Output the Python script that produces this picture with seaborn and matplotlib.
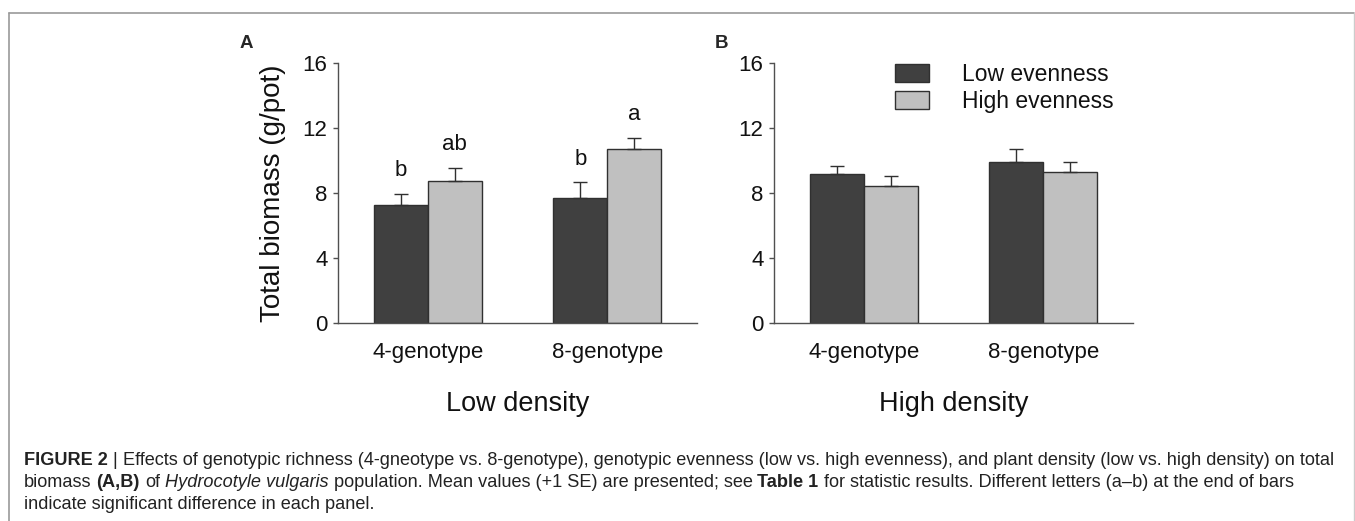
import matplotlib
matplotlib.use("Agg")
import matplotlib.pyplot as plt
from matplotlib.lines import Line2D
import seaborn as sns
import pandas as pd
import numpy as np

# ---------------- data ----------------
genotypes = ["4-genotype", "8-genotype"]
evenness_levels = ["Low evenness", "High evenness"]

low_density_low_even = [7.24, 7.69]
low_density_high_even = [8.72, 10.71]
low_density_low_even_se = [0.70, 0.97]
low_density_high_even_se = [0.84, 0.70]
low_density_low_even_letters = ["b", "b"]
low_density_high_even_letters = ["ab", "a"]

high_density_low_even = [9.17, 9.89]
high_density_high_even = [8.45, 9.29]
high_density_low_even_se = [0.51, 0.82]
high_density_high_even_se = [0.62, 0.64]

y_ticks = [0, 4, 8, 12, 16]
panel_titles = ["A", "B"]
density_labels = ["Low density", "High density"]
y_label = "Total biomass (g/pot)"

caption_lines = [
    [("FIGURE 2", "bold", "normal"), ("|", "normal", "normal"),
     ("Effects of genotypic richness (4-gneotype vs. 8-genotype), genotypic evenness (low vs. high evenness), and plant density (low vs. high density) on total", "normal", "normal")],
    [("biomass", "normal", "normal"), ("(A,B)", "bold", "normal"), ("of", "normal", "normal"),
     ("Hydrocotyle vulgaris", "normal", "italic"),
     ("population. Mean values (+1 SE) are presented; see", "normal", "normal"),
     ("Table 1", "bold", "normal"),
     ("for statistic results. Different letters (a\u2013b) at the end of bars", "normal", "normal")],
    [("indicate significant difference in each panel.", "normal", "normal")],
]

# ---------------- style ----------------
sns.set_style("white")
plt.rcParams["font.family"] = ["Liberation Sans", "DejaVu Sans"]

W, H = 1355, 521
fig = plt.figure(figsize=(W / 100, H / 100), dpi=100)

DARK = "#404040"
LIGHT = "#c0c0c0"
EDGE = "#303030"
AXC = "#505050"

def px_axes(left, top, right, bottom):
    return fig.add_axes([left / W, 1 - bottom / H, (right - left) / W, (bottom - top) / H])

axA = px_axes(338, 63, 697, 323)
axB = px_axes(774, 63, 1133, 323)

panels = [
    (axA, low_density_low_even, low_density_high_even, low_density_low_even_se,
     low_density_high_even_se, [low_density_low_even_letters, low_density_high_even_letters]),
    (axB, high_density_low_even, high_density_high_even, high_density_low_even_se,
     high_density_high_even_se, None),
]

for i, (ax, lo, hi, lo_se, hi_se, letters) in enumerate(panels):
    df = pd.DataFrame({
        "genotype": genotypes * 2,
        "evenness": [evenness_levels[0]] * 2 + [evenness_levels[1]] * 2,
        "biomass": lo + hi,
    })
    sns.barplot(data=df, x="genotype", y="biomass", hue="evenness",
                order=genotypes, hue_order=evenness_levels,
                palette=[DARK, LIGHT], saturation=1, width=0.6,
                edgecolor=EDGE, linewidth=1.0, errorbar=None,
                legend=(i == 1), ax=ax)
    ses = [lo_se, hi_se]
    bar_conts = list(ax.containers)
    for k, cont in enumerate(bar_conts):
        bars = list(cont.patches)
        xs = [b.get_x() + b.get_width() / 2 for b in bars]
        hs = [b.get_height() for b in bars]
        ax.errorbar(xs, hs, yerr=[np.zeros(len(hs)), ses[k]], fmt="none",
                    ecolor=EDGE, elinewidth=1.0, capsize=4.8, capthick=1.0, zorder=1)
        if letters is not None:
            for x, h, s, lab in zip(xs, hs, ses[k], letters[k]):
                ax.annotate(lab, (x, h + s), xytext=(0, 9), textcoords="offset points",
                            ha="center", va="bottom", fontsize=16, color="#111111")
    ax.set_xlim(-0.5, 1.5)
    ax.set_ylim(0, 16)
    ax.set_yticks(y_ticks)
    ax.set_yticklabels([str(t) for t in y_ticks], fontsize=16, color="#111111")
    ax.set_xticks(range(len(genotypes)))
    ax.set_xticklabels(genotypes, fontsize=16, color="#111111")
    ax.tick_params(axis="x", length=0, pad=14)
    ax.tick_params(axis="y", length=3.5, width=1, color=AXC, pad=4, direction="out", left=True)
    for sp in ["top", "right"]:
        ax.spines[sp].set_visible(False)
    for sp in ["left", "bottom"]:
        ax.spines[sp].set_color(AXC)
        ax.spines[sp].set_linewidth(1.0)
    ax.set_xlabel(density_labels[i], fontsize=19.5, labelpad=20, color="#111111")
    if i == 0:
        ax.set_ylabel(y_label, fontsize=20, labelpad=12, color="#111111")
    else:
        ax.set_ylabel("")
    ax.patch.set_alpha(0)

# legend in panel B
handles, labels = axB.get_legend_handles_labels()
leg = axB.legend(handles, labels, loc="upper left",
                 bbox_to_anchor=((896 - 8) / W, 1 - 56 / H), bbox_transform=fig.transFigure,
                 frameon=False, fontsize=16.5, handlelength=1.5, handleheight=0.85,
                 handletextpad=1.45, labelspacing=0.18, borderaxespad=0, borderpad=0.3)
for t in leg.get_texts():
    t.set_color("#111111")

# panel letters
fig.text(246 / W, 1 - 43 / H, panel_titles[0], fontsize=13.5, weight="bold", ha="center", va="center")
fig.text(722 / W, 1 - 43 / H, panel_titles[1], fontsize=13.5, weight="bold", ha="center", va="center")

# frame around figure
fc = "#9a9a9a"
fig.add_artist(Line2D([9 / W, 9 / W], [0, 1 - 13 / H], color=fc, lw=1.2, transform=fig.transFigure))
fig.add_artist(Line2D([9 / W, 1353.5 / W], [1 - 13 / H, 1 - 13 / H], color=fc, lw=1.2, transform=fig.transFigure))
fig.add_artist(Line2D([1353.5 / W, 1353.5 / W], [0, 1 - 13 / H], color="#cccccc", lw=1.0, transform=fig.transFigure))

# caption
renderer = fig.canvas.get_renderer()

def text_w(s, size, weight="normal", style="normal"):
    t = fig.text(0, 0, s, fontsize=size, weight=weight, style=style)
    w = t.get_window_extent(renderer).width
    t.remove()
    return w

def advance(s, size, weight="normal", style="normal"):
    # width of the run followed by one space, in its own font
    return text_w(s + " l", size, weight, style) - text_w("l", size, weight, style)

def line_width(runs, size):
    return sum(advance(r[0], size, r[1], r[2]) for r in runs[:-1]) + text_w(runs[-1][0], size, runs[-1][1], runs[-1][2])

target = 1313.0
size = 10 * target / line_width(caption_lines[0], 10)
baselines = [465, 487, 509]
x0 = 24
for runs, yb in zip(caption_lines, baselines):
    x = x0
    for (s, wgt, sty) in runs:
        fig.text(x / W, 1 - yb / H, s, fontsize=size, weight=wgt, style=sty,
                 ha="left", va="baseline", color="#222222")
        x += advance(s, size, wgt, sty)

fig.savefig("out.png", dpi=100)
